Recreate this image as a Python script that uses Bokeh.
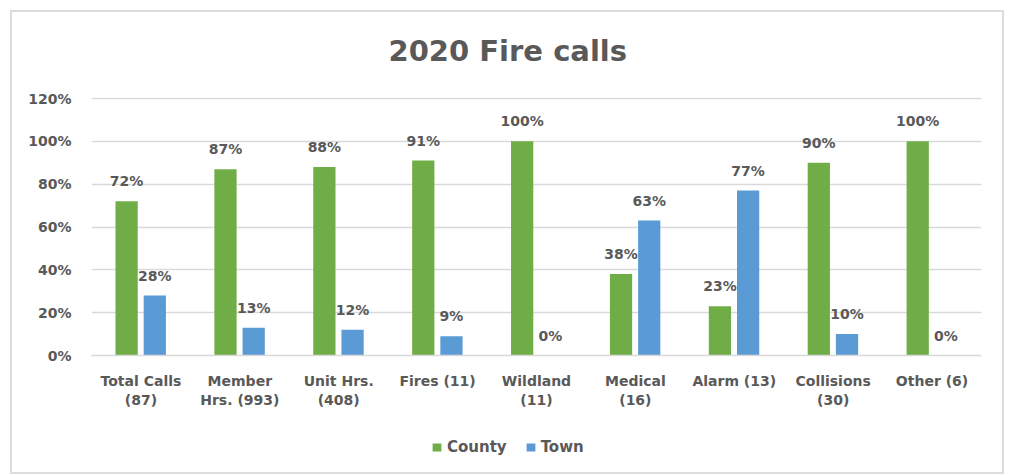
from bokeh.plotting import figure
from bokeh.layouts import column
from bokeh.models import (ColumnDataSource, FactorRange, Range1d, Legend, LegendItem,
                          SingleIntervalTicker, PrintfTickFormatter)
from bokeh.transform import dodge
from bokeh.core.properties import value
from bokeh.embed import file_html
from bokeh.resources import INLINE

categories = ["Total Calls\n(87)", "Member\nHrs. (993)", "Unit Hrs.\n(408)", "Fires (11)",
              "Wildland\n(11)", "Medical\n(16)", "Alarm (13)", "Collisions\n(30)", "Other (6)"]
county = [72, 87, 88, 91, 100, 38, 23, 90, 100]
town = [28, 13, 12, 9, 0, 63, 77, 10, 0]
series_names = ["County", "Town"]

GREEN = "#70AD47"
BLUE = "#5B9BD5"
TXT = "#595959"
FONT = "DejaVu Sans"
BOX = "#DCDCDC"

source = ColumnDataSource(dict(
    cat=categories, county=county, town=town,
    county_lbl=[f"{v}%" for v in county], town_lbl=[f"{v}%" for v in town],
))

W, H_MAIN, H_LEG = 1008, 420, 55
box_css = (
    f"linear-gradient({BOX},{BOX}) 10px 10px / 994px 2px no-repeat, "
    f"linear-gradient({BOX},{BOX}) 10px 472px / 994px 2px no-repeat, "
    f"linear-gradient({BOX},{BOX}) 10px 10px / 2px 464px no-repeat, "
    f"linear-gradient({BOX},{BOX}) 1002px 10px / 2px 464px no-repeat, white"
)

p = figure(width=W, height=H_MAIN, frame_width=890, frame_height=258,
           x_range=FactorRange(factors=categories, range_padding=0),
           y_range=Range1d(0, 120 * 258 / 257), output_backend="svg", toolbar_location=None,
           min_border_left=91, min_border_right=27, min_border_top=97, min_border_bottom=65)
p.outline_line_color = None
p.background_fill_color = "white"
p.border_fill_alpha = 0

p.title.text = "2020 Fire calls"
p.title.align = "left"
p.title.offset = 297
p.title.standoff = 59
p.title.text_font = FONT
p.title.text_font_size = "29px"
p.title.text_font_style = "bold"
p.title.text_color = TXT

p.vbar(x=dodge("cat", -0.145, range=p.x_range), top="county", width=0.225,
       source=source, color=GREEN, line_color=None)
p.vbar(x=dodge("cat", 0.14, range=p.x_range), top="town", width=0.225,
       source=source, color=BLUE, line_color=None)

for off, col, lbl in [(-0.145, "county", "county_lbl"), (0.14, "town", "town_lbl")]:
    p.text(x=dodge("cat", off, range=p.x_range), y=col, text=lbl, source=source,
           text_align="center", text_baseline="alphabetic", y_offset=-20,
           text_font=value(FONT), text_font_size="14px", text_font_style="bold",
           text_color=TXT)

p.yaxis.ticker = SingleIntervalTicker(interval=20)
p.yaxis.formatter = PrintfTickFormatter(format="%d%%")
for ax in (p.xaxis, p.yaxis):
    ax.major_label_text_font = FONT
    ax.major_label_text_font_size = "14px"
    ax.major_label_text_font_style = "bold"
    ax.major_label_text_color = TXT
    ax.major_tick_line_color = None
    ax.minor_tick_line_color = None
    ax.major_tick_out = 0
    ax.major_tick_in = 0
p.yaxis.axis_line_color = None
p.yaxis.major_label_standoff = 16
p.xaxis.axis_line_color = "#D9D9D9"
p.xaxis.axis_line_width = 1.5
p.xaxis.major_label_standoff = 17
p.xgrid.grid_line_color = None
p.ygrid.grid_line_color = "#D9D9D9"
p.ygrid.grid_line_width = 1.5

# legend strip below the chart (swatch glyphs sit outside the visible range)
pl = figure(width=W, height=H_LEG, x_range=Range1d(0, 1), y_range=Range1d(0, 1),
            output_backend="svg", toolbar_location=None,
            min_border_left=0, min_border_right=0, min_border_top=0, min_border_bottom=0)
pl.axis.visible = False
pl.grid.visible = False
pl.outline_line_color = None
pl.background_fill_alpha = 0
pl.border_fill_alpha = 0
swatch = ColumnDataSource(dict(x=[-5], y=[-5]))
g1 = pl.rect(x="x", y="y", width=0.1, height=0.1, source=swatch, color=GREEN, line_color=None)
g2 = pl.rect(x="x", y="y", width=0.1, height=0.1, source=swatch, color=BLUE, line_color=None)

legend = Legend(items=[LegendItem(label=series_names[0], renderers=[g1]),
                       LegendItem(label=series_names[1], renderers=[g2])],
                orientation="horizontal", location=(340, 19),
                label_text_font=FONT, label_text_font_size="15px",
                label_text_font_style="bold", label_text_color=TXT,
                glyph_width=11, glyph_height=10, spacing=18, label_standoff=5,
                border_line_color=None, background_fill_alpha=0, margin=0, padding=4)
pl.add_layout(legend, "center")

layout = column(p, pl, spacing=0, styles={"background": box_css})
open("out.html", "w").write(file_html(layout, INLINE))
